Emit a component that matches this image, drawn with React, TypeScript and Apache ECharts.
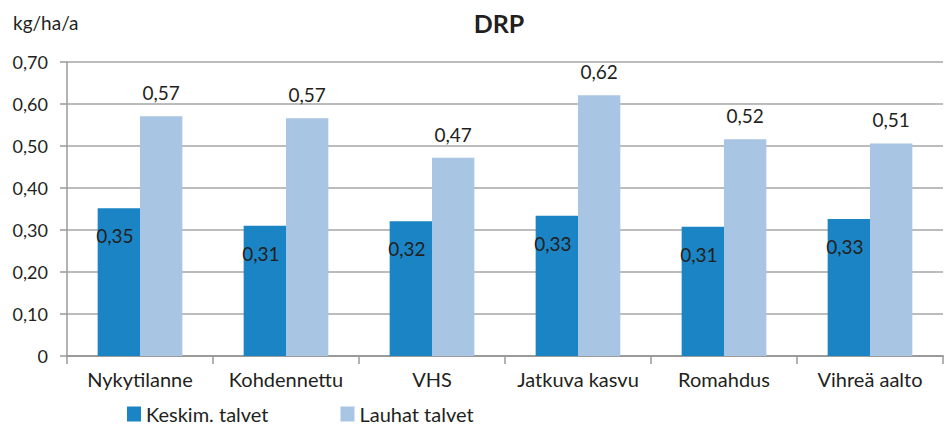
import React, { useEffect, useRef } from "react";
import * as echarts from "echarts";

const categories = ["Nykytilanne", "Kohdennettu", "VHS", "Jatkuva kasvu", "Romahdus", "Vihreä aalto"];
const seriesNames = ["Keskim. talvet", "Lauhat talvet"];
const keskimValues = [0.352, 0.31, 0.321, 0.334, 0.308, 0.326];
const lauhatValues = [0.571, 0.566, 0.472, 0.621, 0.516, 0.506];
const yTicks = { min: 0, max: 0.7, interval: 0.1 };
const titleText = "DRP";
const unitText = "kg/ha/a";

const FONT = "Lato, 'Open Sans', sans-serif";
const TEXT = "#231f20";
const fmt = (v: number) => (v === 0 ? "0" : v.toFixed(2).replace(".", ","));

export default function App() {
  const ref = useRef<HTMLDivElement>(null);
  useEffect(() => {
    if (!ref.current) return;
    const chart = echarts.init(ref.current, undefined, { renderer: "svg" });
    chart.setOption({
      animation: false,
      textStyle: { fontFamily: FONT, color: TEXT },
      graphic: [
        {
          type: "text",
          left: 13,
          top: 13,
          style: { text: unitText, font: `19px ${FONT}`, fill: TEXT },
        },
        {
          type: "text",
          x: 499,
          y: 10,
          style: { text: titleText, font: `bold 25px ${FONT}`, fill: TEXT, textAlign: "center" },
        },
      ],
      legend: {
        left: 127,
        top: 404,
        padding: 0,
        itemWidth: 14,
        itemHeight: 15,
        itemGap: 72,
        icon: "rect",
        textStyle: { fontFamily: FONT, fontSize: 20, lineHeight: 20, color: TEXT },
        data: seriesNames,
      },
      grid: { left: 67, right: 6, top: 62, bottom: 71, containLabel: false },
      xAxis: {
        type: "category",
        data: categories,
        axisLine: { show: true, lineStyle: { color: "#9a9a9a", width: 2 } },
        axisTick: { show: true, length: 8, lineStyle: { color: "#9a9a9a", width: 1.5 } },
        axisLabel: { interval: 0, fontFamily: FONT, fontSize: 20, color: TEXT, margin: 13 },
      },
      yAxis: {
        type: "value",
        min: yTicks.min,
        max: yTicks.max,
        interval: yTicks.interval,
        axisLine: { show: true, lineStyle: { color: "#9a9a9a", width: 1.5 } },
        axisTick: { show: true, length: 7, lineStyle: { color: "#9a9a9a", width: 1.5 } },
        axisLabel: { fontFamily: FONT, fontSize: 18, color: TEXT, margin: 19, formatter: fmt },
        splitLine: { show: true, lineStyle: { color: "#a6a6a6", width: 1.5 } },
      },
      series: [
        {
          name: seriesNames[0],
          type: "bar",
          data: keskimValues,
          barGap: "0%",
          barCategoryGap: "42%",
          itemStyle: { color: "#1a84c4" },
          label: {
            show: true,
            position: "insideTop",
            distance: 18,
            offset: [-4, 0],
            fontFamily: FONT,
            fontSize: 19,
            color: TEXT,
            formatter: (p: any) => fmt(Math.round(p.value * 100) / 100),
          },
        },
        {
          name: seriesNames[1],
          type: "bar",
          data: lauhatValues,
          barGap: "0%",
          barCategoryGap: "42%",
          itemStyle: { color: "#a8c5e3" },
          label: {
            show: true,
            position: "top",
            distance: 14,
            fontFamily: FONT,
            fontSize: 19,
            color: TEXT,
            formatter: (p: any) => fmt(Math.round(p.value * 100) / 100),
          },
        },
      ],
    });
    return () => chart.dispose();
  }, []);
  return <div ref={ref} style={{ width: 949, height: 427, position: "absolute", left: 0, top: 0 }} />;
}
